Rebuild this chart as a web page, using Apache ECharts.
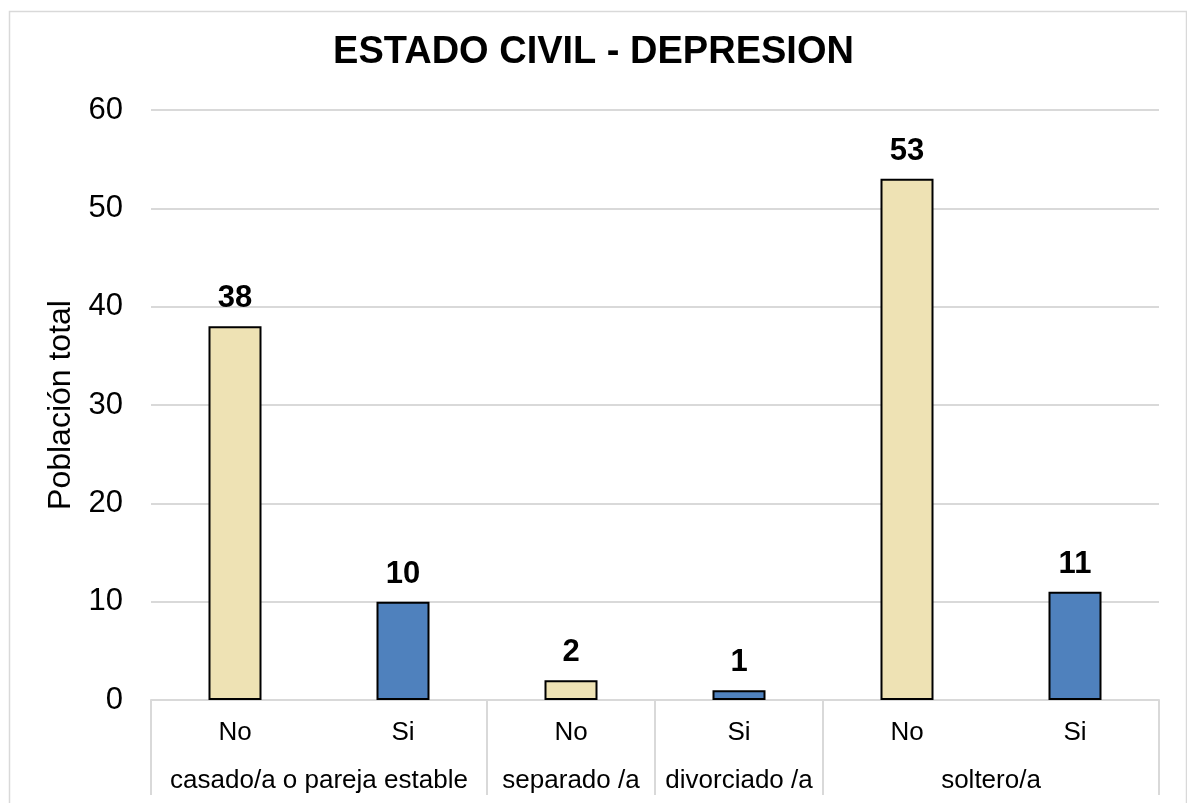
<!DOCTYPE html>
<html>
<head>
<meta charset="utf-8">
<script src="https://cdn.jsdelivr.net/npm/echarts@6/dist/echarts.min.js"></script>
<style>
html,body{margin:0;padding:0;background:#fff;}
#chart{width:1187px;height:803px;}
</style>
</head>
<body>
<div id="chart"></div>
<script>
// Data
const answers = ['No', 'Si', 'No', 'Si', 'No', 'Si'];
const values = [38, 10, 2, 1, 53, 11];
const groupNames = ['casado/a o pareja estable', 'separado /a', 'divorciado /a', 'soltero/a'];
const groupSizes = [2, 1, 1, 2];
const titleText = 'ESTADO CIVIL - DEPRESION';
const yAxisName = 'Población total';

// Derived group boundaries and centers (in category units)
const boundaries = [0];
const centers = [];
groupSizes.forEach(function (s) {
  const start = boundaries[boundaries.length - 1];
  centers.push(start + s / 2);
  boundaries.push(start + s);
});

const FONT = 'Liberation Sans, Arial, sans-serif';
const colorNo = '#EEE2B4';
const colorSi = '#4F81BD';

const chart = echarts.init(document.getElementById('chart'));
chart.setOption({
  backgroundColor: '#fff',
  animation: false,
  graphic: [{
    type: 'rect',
    shape: { x: 9.5, y: 11.5, width: 1177, height: 820 },
    style: { fill: 'none', stroke: '#D9D9D9', lineWidth: 1.5 },
    silent: true, z: -1
  }],
  title: {
    text: titleText,
    left: 'center',
    top: 29,
    textStyle: { fontFamily: FONT, fontSize: 38, fontWeight: 'bold', color: '#000' }
  },
  grid: { left: 151, right: 28, top: 110, bottom: 103, containLabel: false },
  xAxis: [{
    type: 'category',
    data: answers,
    position: 'bottom',
    axisLine: { show: true, lineStyle: { color: '#D9D9D9', width: 2 } },
    axisTick: { show: false },
    axisLabel: { fontFamily: FONT, fontSize: 26, color: '#000', margin: 20, interval: 0 },
    splitLine: { show: false }
  }, {
    type: 'value',
    min: 0,
    max: answers.length,
    position: 'bottom',
    axisLine: { show: false },
    axisTick: {
      show: true, length: 95, inside: false,
      customValues: boundaries,
      lineStyle: { color: '#D9D9D9', width: 2 }
    },
    axisLabel: {
      show: true,
      customValues: centers,
      fontFamily: FONT, fontSize: 26, color: '#000', margin: 68,
      formatter: function (v) {
        const i = centers.findIndex(function (c) { return Math.abs(c - v) < 1e-6; });
        return i >= 0 ? groupNames[i] : '';
      }
    },
    splitLine: { show: false }
  }],
  yAxis: {
    type: 'value',
    min: 0,
    max: 60,
    interval: 10,
    name: yAxisName,
    nameLocation: 'middle',
    nameGap: 73,
    nameTextStyle: { fontFamily: FONT, fontSize: 32, color: '#000' },
    axisLine: { show: false },
    axisTick: { show: false },
    axisLabel: { fontFamily: FONT, fontSize: 31, color: '#000', margin: 28 },
    splitLine: { show: true, lineStyle: { color: '#D9D9D9', width: 2 } }
  },
  series: [{
    type: 'bar',
    xAxisIndex: 0,
    data: values,
    barWidth: 53,
    itemStyle: {
      color: function (p) { return answers[p.dataIndex] === 'No' ? colorNo : colorSi; },
      borderColor: '#000',
      borderWidth: 2
    },
    label: {
      show: true,
      position: 'top',
      distance: 12,
      fontFamily: FONT,
      fontSize: 31,
      fontWeight: 'bold',
      color: '#000'
    }
  }]
});
</script>
</body>
</html>
